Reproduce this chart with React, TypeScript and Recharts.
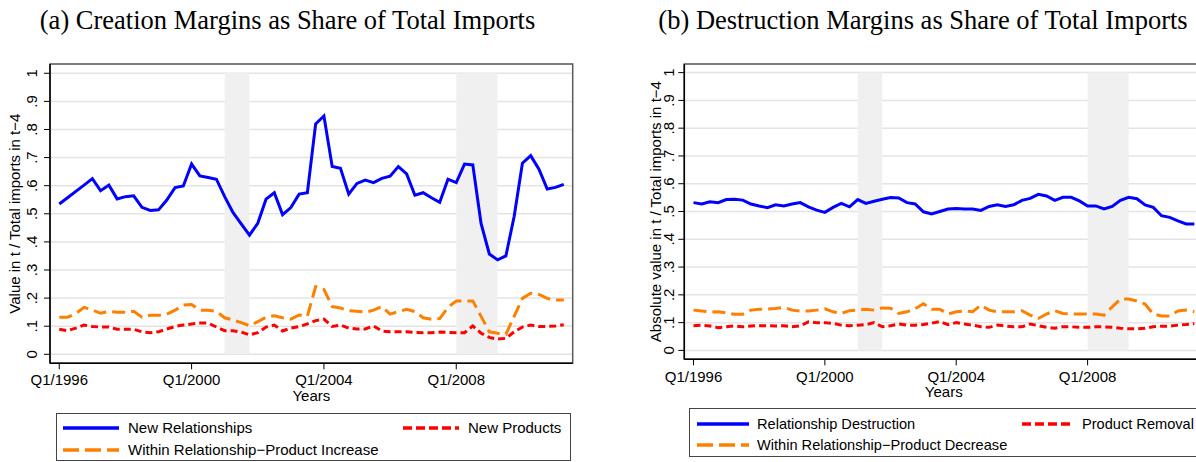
import React from "react";
import { LineChart, Line, XAxis, YAxis, CartesianGrid, ReferenceArea } from "recharts";

// quarter index 0 = Q1/1996 ... 61 = Q2/2011
const quarterIndex: number[] = Array.from({ length: 62 }, (_, i) => i);
const xTicks = [0, 16, 32, 48];
const xTickLabels = ["Q1/1996", "Q1/2000", "Q1/2004", "Q1/2008"];
const yTicks = [0, 0.1, 0.2, 0.3, 0.4, 0.5, 0.6, 0.7, 0.8, 0.9, 1];
const recessions: [number, number][] = [[20, 23], [48, 53]];

// Panel (a) Creation margins
const newRelationships = [
  0.535, 0.557, 0.58, 0.602, 0.625, 0.582, 0.602, 0.553, 0.561, 0.564,
  0.523, 0.512, 0.514, 0.549, 0.593, 0.599, 0.677, 0.635, 0.629, 0.623,
  0.561, 0.505, 0.464, 0.424, 0.466, 0.552, 0.575, 0.497, 0.522, 0.57,
  0.575, 0.82, 0.848, 0.668, 0.662, 0.57, 0.608, 0.62, 0.611, 0.626,
  0.634, 0.668, 0.642, 0.566, 0.575, 0.557, 0.541, 0.623, 0.611, 0.677,
  0.674, 0.466, 0.357, 0.336, 0.35, 0.49, 0.68, 0.707, 0.659, 0.588,
  0.594, 0.605,
];
const newProducts = [
  0.089, 0.084, 0.093, 0.104, 0.099, 0.097, 0.097, 0.089, 0.089, 0.089,
  0.08, 0.077, 0.08, 0.09, 0.099, 0.104, 0.108, 0.111, 0.111, 0.097,
  0.084, 0.084, 0.079, 0.069, 0.077, 0.097, 0.104, 0.083, 0.093, 0.099,
  0.108, 0.12, 0.125, 0.099, 0.104, 0.093, 0.09, 0.09, 0.101, 0.083,
  0.08, 0.08, 0.08, 0.078, 0.077, 0.077, 0.079, 0.078, 0.077, 0.077,
  0.101, 0.075, 0.06, 0.054, 0.057, 0.08, 0.097, 0.104, 0.099, 0.099,
  0.101, 0.105,
];
const withinIncrease = [
  0.132, 0.132, 0.145, 0.167, 0.158, 0.146, 0.153, 0.15, 0.15, 0.153,
  0.132, 0.139, 0.139, 0.143, 0.157, 0.175, 0.177, 0.157, 0.157, 0.153,
  0.13, 0.122, 0.113, 0.102, 0.116, 0.132, 0.137, 0.13, 0.125, 0.14,
  0.136, 0.241, 0.231, 0.17, 0.165, 0.155, 0.153, 0.15, 0.157, 0.17,
  0.143, 0.152, 0.16, 0.152, 0.13, 0.125, 0.127, 0.167, 0.19, 0.19,
  0.19, 0.135, 0.08, 0.075, 0.071, 0.135, 0.199, 0.217, 0.213, 0.199,
  0.193, 0.193,
];

// Panel (b) Destruction margins
const relationshipDestruction = [
  0.532, 0.527, 0.535, 0.532, 0.543, 0.544, 0.541, 0.527, 0.52, 0.514,
  0.524, 0.52, 0.527, 0.532, 0.517, 0.505, 0.497, 0.515, 0.529, 0.517,
  0.543, 0.529, 0.537, 0.544, 0.55, 0.549, 0.532, 0.527, 0.499, 0.491,
  0.5, 0.509, 0.511, 0.509, 0.509, 0.504, 0.518, 0.524, 0.518, 0.524,
  0.54, 0.547, 0.562, 0.556, 0.54, 0.551, 0.551, 0.538, 0.52, 0.52,
  0.509, 0.518, 0.54, 0.551, 0.546, 0.524, 0.515, 0.485, 0.479, 0.466,
  0.455, 0.455,
];
const productRemoval = [
  0.089, 0.091, 0.088, 0.082, 0.085, 0.088, 0.085, 0.088, 0.089, 0.089,
  0.088, 0.089, 0.085, 0.088, 0.103, 0.1, 0.1, 0.097, 0.091, 0.089,
  0.091, 0.093, 0.1, 0.085, 0.089, 0.095, 0.091, 0.091, 0.093, 0.098,
  0.104, 0.093, 0.1, 0.095, 0.091, 0.085, 0.083, 0.091, 0.088, 0.085,
  0.085, 0.095, 0.089, 0.083, 0.08, 0.085, 0.085, 0.083, 0.083, 0.085,
  0.085, 0.083, 0.08, 0.078, 0.078, 0.08, 0.085, 0.087, 0.087, 0.091,
  0.093, 0.097,
];
const withinDecrease = [
  0.145, 0.142, 0.138, 0.139, 0.135, 0.13, 0.13, 0.145, 0.148, 0.149,
  0.151, 0.155, 0.145, 0.142, 0.142, 0.145, 0.15, 0.139, 0.133, 0.143,
  0.145, 0.148, 0.145, 0.153, 0.152, 0.133, 0.139, 0.15, 0.168, 0.148,
  0.148, 0.131, 0.139, 0.142, 0.139, 0.163, 0.145, 0.139, 0.139, 0.139,
  0.143, 0.127, 0.115, 0.131, 0.143, 0.133, 0.131, 0.131, 0.131, 0.131,
  0.127, 0.157, 0.185, 0.185, 0.178, 0.167, 0.131, 0.124, 0.124, 0.142,
  0.145, 0.139,
];

const BLUE = "#0000ff";
const RED = "#ff0000";
const ORANGE = "#ff8000";
const SANS = "'Liberation Sans', Arial, Helvetica, sans-serif";
const SERIF = "'Liberation Serif', 'Times New Roman', serif";

type PanelProps = {
  left: number;
  s1: number[];
  s2: number[];
  s3: number[];
  yTitle: string;
  marginLeft: number;
  marginRight: number;
  marginBottom: number;
  yDomain: [number, number];
  yLabelShift: number;
  yTitleShift: number;
  xTickGap: number;
  yearsShift: number;
};

function Panel(p: PanelProps) {
  const data = quarterIndex.map((q, i) => ({ q, a: p.s1[i], b: p.s2[i], c: p.s3[i] }));
  const xDomain: [number, number] = [-1.12, 62.08];
  const YTick = (tp: any) => {
    const v = tp.payload.value as number;
    const txt = v === 0 ? "0" : v === 1 ? "1" : "." + Math.round(v * 10);
    return (
      <text
        transform={`translate(${tp.x - p.yLabelShift},${tp.y}) rotate(-90)`}
        textAnchor="middle"
        fontSize={15}
        fontFamily={SANS}
        fill="#000"
      >
        {txt}
      </text>
    );
  };
  const XTick = (tp: any) => {
    const idx = xTicks.indexOf(tp.payload.value);
    return (
      <text x={tp.x} y={tp.y + p.xTickGap} dy="0.71em" textAnchor="middle" fontSize={15} fontFamily={SANS} fill="#000">
        {xTickLabels[idx]}
      </text>
    );
  };
  return (
    <div style={{ position: "absolute", left: p.left, top: 0 }}>
      <LineChart
        width={600}
        height={462}
        data={data}
        margin={{ top: 64, right: p.marginRight, left: p.marginLeft, bottom: p.marginBottom }}
      >
        <CartesianGrid horizontal vertical={false} stroke="#e4e4e4" strokeWidth={1.5} />
        {recessions.map(([a, b], i) => (
          <ReferenceArea key={i} x1={a} x2={b} y1={0} y2={1} fill="#f0f0f0" fillOpacity={1} stroke="none" />
        ))}
        <ReferenceArea
          x1={xDomain[0]}
          x2={xDomain[1]}
          y1={p.yDomain[0]}
          y2={p.yDomain[1]}
          fill="none"
          stroke="#5a5a5a"
          strokeWidth={1.5}
          ifOverflow="visible"
        />
        <XAxis
          dataKey="q"
          type="number"
          domain={xDomain}
          allowDataOverflow
          ticks={xTicks}
          interval={0}
          height={30}
          tickSize={6}
          tickLine={{ stroke: "#000", strokeWidth: 1 }}
          axisLine={{ stroke: "#000", strokeWidth: 1.5 }}
          tick={XTick}
          label={(lp: any) => {
            const vb = lp.viewBox;
            return (
              <text x={vb.x + vb.width / 2} y={vb.y + p.yearsShift} textAnchor="middle" fontSize={15} fontFamily={SANS} fill="#000">
                Years
              </text>
            );
          }}
        />
        <YAxis
          type="number"
          domain={p.yDomain}
          allowDataOverflow
          ticks={yTicks}
          interval={0}
          width={40}
          tickSize={6}
          tickMargin={2}
          tickLine={{ stroke: "#000", strokeWidth: 1 }}
          axisLine={{ stroke: "#000", strokeWidth: 1.5 }}
          tick={YTick}
          label={(lp: any) => {
            const vb = lp.viewBox;
            const cy = vb.y + vb.height / 2;
            const cx = vb.x + p.yTitleShift;
            return (
              <text transform={`translate(${cx},${cy}) rotate(-90)`} textAnchor="middle" fontSize={15} fontFamily={SANS} fill="#000">
                {p.yTitle}
              </text>
            );
          }}
        />
        <Line dataKey="a" stroke={BLUE} strokeWidth={3} dot={false} isAnimationActive={false} />
        <Line dataKey="b" stroke={RED} strokeWidth={3} strokeDasharray="7 4" dot={false} isAnimationActive={false} />
        <Line dataKey="c" stroke={ORANGE} strokeWidth={3} strokeDasharray="13 6" dot={false} isAnimationActive={false} />
      </LineChart>
    </div>
  );
}

function Sample({ color, dash, w }: { color: string; dash?: string; w: number }) {
  return (
    <svg width={w} height={6} style={{ display: "block" }}>
      <line x1={0} y1={3} x2={w} y2={3} stroke={color} strokeWidth={3.5} strokeDasharray={dash} />
    </svg>
  );
}

function LegendBox(props: {
  left: number;
  top: number;
  width: number;
  height: number;
  fontSize: number;
  sampleW: number;
  gap: number;
  items: { label: string; color: string; dash?: string; x: number; y: number }[];
}) {
  return (
    <div
      style={{
        position: "absolute",
        left: props.left,
        top: props.top,
        width: props.width,
        height: props.height,
        border: "1px solid #444",
        boxSizing: "border-box",
        fontFamily: SANS,
        fontSize: props.fontSize,
        color: "#000",
      }}
    >
      {props.items.map((it, i) => (
        <div key={i} style={{ position: "absolute", left: it.x, top: it.y - 9, height: 18, display: "flex", alignItems: "center", whiteSpace: "nowrap" }}>
          <Sample color={it.color} dash={it.dash} w={props.sampleW} />
          <span style={{ marginLeft: props.gap, lineHeight: "18px" }}>{it.label}</span>
        </div>
      ))}
    </div>
  );
}

export default function App() {
  return (
    <div style={{ position: "fixed", left: 0, top: 0, width: 1196, height: 462, overflow: "hidden", background: "#fff" }}>
      <div style={{ position: "absolute", left: 0, top: 2, width: 575, textAlign: "center", fontFamily: SERIF, fontSize: 26.5, lineHeight: "36px", color: "#000" }}>
        (a) Creation Margins as Share of Total Imports
      </div>
      <div style={{ position: "absolute", left: 650, width: 546, top: 2, textAlign: "center", fontFamily: SERIF, fontSize: 26.5, lineHeight: "36px", color: "#000" }}>
        (b) Destruction Margins as Share of Total Imports
      </div>
      <Panel
        left={0}
        s1={newRelationships}
        s2={newProducts}
        s3={withinIncrease}
        yTitle="Value in t / Total imports in t−4"
        marginLeft={10}
        marginRight={27.3}
        marginBottom={68.7}
        yDomain={[-0.032, 1.033]}
        yLabelShift={5}
        yTitleShift={9.5}
        xTickGap={3.4}
        yearsShift={38}
      />
      <Panel
        left={620}
        s1={relationshipDestruction}
        s2={productRemoval}
        s3={withinDecrease}
        yTitle="Absolute value in t / Total imports in t−4"
        marginLeft={24.3}
        marginRight={16.8}
        marginBottom={72.7}
        yDomain={[-0.032, 1.031]}
        yLabelShift={2.6}
        yTitleShift={16.2}
        xTickGap={4}
        yearsShift={38}
      />
      <LegendBox
        left={56}
        top={413}
        width={515}
        height={48}
        fontSize={15}
        sampleW={56}
        gap={9}
        items={[
          { label: "New Relationships", color: BLUE, x: 6, y: 14 },
          { label: "New Products", color: RED, dash: "9 4", x: 346, y: 14 },
          { label: "Within Relationship−Product Increase", color: ORANGE, dash: "16 6", x: 6, y: 36 },
        ]}
      />
      <LegendBox
        left={689}
        top={408}
        width={560}
        height={49}
        fontSize={14.6}
        sampleW={52}
        gap={8}
        items={[
          { label: "Relationship Destruction", color: BLUE, x: 7, y: 14.5 },
          { label: "Product Removal", color: RED, dash: "9 4", x: 332, y: 14.5 },
          { label: "Within Relationship−Product Decrease", color: ORANGE, dash: "16 6", x: 7, y: 35.5 },
        ]}
      />
    </div>
  );
}
